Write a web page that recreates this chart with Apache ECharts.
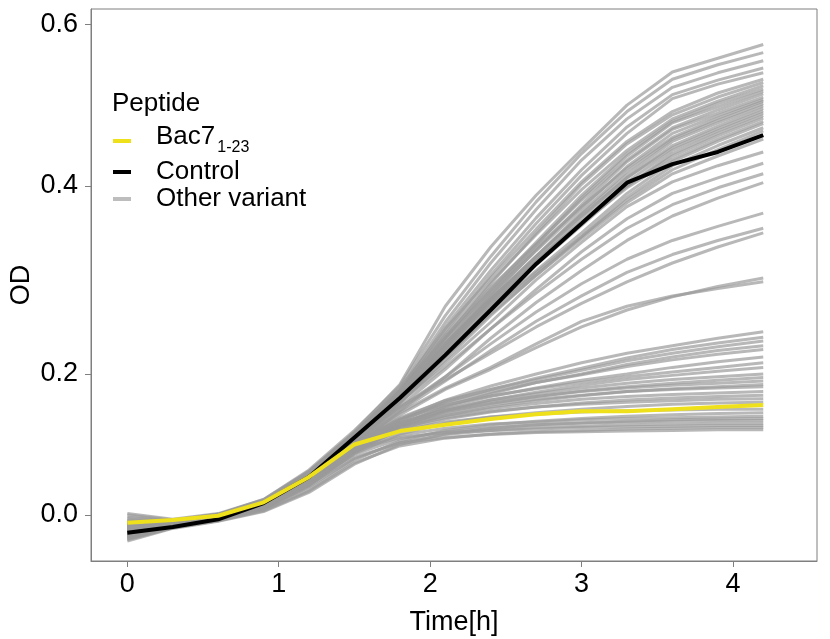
<!DOCTYPE html>
<html>
<head>
<meta charset="utf-8">
<script src="https://cdn.jsdelivr.net/npm/echarts@6/dist/echarts.min.js"></script>
<style>html,body{margin:0;padding:0;background:#fff}#c{width:830px;height:639px}</style>
</head>
<body>
<div id="c"></div>
<script>
// time points (h)
const time = [0, 0.3, 0.6, 0.9, 1.2, 1.5, 1.8, 2.1, 2.4, 2.7, 3.0, 3.3, 3.6, 3.9, 4.2];
// x tick labels
const xTicks = [0, 1, 2, 3, 4];
// y tick labels (OD)
const yTicks = [0, 0.2, 0.4, 0.6];

const bac7 = [-0.011,-0.007,-0.001,0.018,0.054,0.100,0.119,0.128,0.136,0.143,0.147,0.147,0.150,0.153,0.156];
const control = [-0.025,-0.017,-0.006,0.017,0.054,0.110,0.166,0.220,0.268,0.317,0.360,0.404,0.427,0.442,0.463];

const otherHigh = [
  [-0.010,-0.009,0.000,0.020,0.062,0.118,0.185,0.272,0.335,0.390,0.445,0.500,0.541,0.558,0.575],
  [0.002,-0.006,0.002,0.022,0.064,0.120,0.183,0.262,0.325,0.383,0.440,0.492,0.532,0.550,0.565],
  [-0.020,-0.012,-0.003,0.016,0.056,0.114,0.178,0.255,0.318,0.375,0.432,0.483,0.522,0.540,0.555],
  [-0.015,-0.010,-0.002,0.018,0.058,0.112,0.176,0.250,0.310,0.366,0.420,0.473,0.513,0.531,0.546],
  [-0.025,-0.014,-0.005,0.013,0.050,0.110,0.172,0.245,0.305,0.360,0.413,0.465,0.508,0.526,0.540],
  [0.000,-0.007,0.001,0.021,0.061,0.116,0.179,0.248,0.302,0.354,0.405,0.455,0.492,0.515,0.532],
  [-0.030,-0.016,-0.006,0.011,0.045,0.104,0.168,0.238,0.296,0.350,0.402,0.452,0.488,0.510,0.528],
  [-0.012,-0.010,-0.001,0.019,0.059,0.113,0.175,0.242,0.298,0.348,0.396,0.444,0.483,0.505,0.524],
  [-0.018,-0.011,-0.003,0.015,0.053,0.108,0.170,0.236,0.290,0.340,0.390,0.440,0.480,0.502,0.520],
  [-0.022,-0.013,-0.004,0.014,0.050,0.106,0.166,0.232,0.286,0.337,0.387,0.437,0.478,0.498,0.517],
  [-0.008,-0.009,0.000,0.020,0.060,0.114,0.174,0.240,0.292,0.338,0.385,0.432,0.472,0.494,0.514],
  [-0.028,-0.015,-0.006,0.012,0.046,0.103,0.164,0.228,0.282,0.332,0.380,0.430,0.470,0.490,0.510],
  [-0.016,-0.011,-0.002,0.017,0.055,0.110,0.169,0.232,0.284,0.331,0.376,0.424,0.465,0.487,0.507],
  [-0.005,-0.008,0.001,0.021,0.061,0.115,0.176,0.238,0.288,0.334,0.378,0.422,0.460,0.484,0.505],
  [-0.024,-0.014,-0.005,0.013,0.049,0.105,0.163,0.225,0.277,0.325,0.372,0.418,0.458,0.481,0.502],
  [-0.019,-0.012,-0.003,0.016,0.054,0.109,0.168,0.229,0.279,0.325,0.370,0.414,0.455,0.478,0.499],
  [-0.033,-0.017,-0.007,0.009,0.042,0.100,0.158,0.220,0.272,0.320,0.366,0.410,0.450,0.474,0.496],
  [-0.011,-0.010,-0.001,0.019,0.058,0.112,0.171,0.231,0.280,0.325,0.368,0.410,0.447,0.471,0.493],
  [-0.020,-0.012,-0.004,0.015,0.052,0.107,0.165,0.226,0.275,0.320,0.362,0.405,0.444,0.468,0.490],
  [-0.026,-0.015,-0.005,0.012,0.048,0.104,0.162,0.222,0.271,0.316,0.358,0.400,0.440,0.465,0.487],
  [-0.014,-0.011,-0.002,0.018,0.056,0.111,0.170,0.228,0.276,0.319,0.360,0.400,0.437,0.462,0.484],
  [-0.003,-0.008,0.001,0.022,0.062,0.116,0.175,0.233,0.280,0.322,0.360,0.398,0.433,0.458,0.480],
  [-0.023,-0.013,-0.004,0.014,0.051,0.106,0.163,0.221,0.268,0.310,0.350,0.392,0.430,0.455,0.477],
  [-0.029,-0.016,-0.006,0.011,0.045,0.102,0.159,0.215,0.262,0.305,0.346,0.388,0.425,0.450,0.472],
  [-0.017,-0.011,-0.003,0.016,0.054,0.108,0.166,0.223,0.268,0.308,0.346,0.385,0.420,0.445,0.468],
  [-0.021,-0.013,-0.004,0.015,0.052,0.106,0.162,0.218,0.264,0.305,0.344,0.382,0.415,0.437,0.458]
];
const otherMid = [
  [-0.020,-0.012,-0.004,0.015,0.052,0.104,0.160,0.212,0.255,0.300,0.340,0.378,0.405,0.425,0.442],
  [-0.027,-0.015,-0.005,0.012,0.047,0.100,0.154,0.205,0.248,0.290,0.330,0.365,0.392,0.410,0.428],
  [-0.013,-0.010,-0.002,0.018,0.056,0.108,0.160,0.208,0.248,0.286,0.322,0.355,0.380,0.398,0.415],
  [-0.031,-0.016,-0.006,0.010,0.043,0.097,0.148,0.196,0.238,0.276,0.310,0.342,0.368,0.387,0.404],
  [-0.018,-0.012,-0.003,0.016,0.053,0.103,0.152,0.196,0.232,0.266,0.296,0.322,0.342,0.357,0.371],
  [-0.024,-0.014,-0.005,0.013,0.049,0.099,0.147,0.190,0.225,0.256,0.283,0.308,0.327,0.342,0.355],
  [-0.010,-0.009,0.000,0.019,0.058,0.106,0.153,0.192,0.222,0.250,0.275,0.298,0.318,0.335,0.350],
  [-0.028,-0.015,-0.006,0.011,0.046,0.096,0.142,0.178,0.205,0.228,0.250,0.268,0.282,0.293,0.302],
  [-0.015,-0.011,-0.002,0.017,0.054,0.100,0.145,0.180,0.207,0.232,0.256,0.272,0.283,0.291,0.298]
];
const otherLow = [
  [-0.020,-0.012,-0.004,0.015,0.051,0.097,0.136,0.163,0.183,0.200,0.212,0.222,0.230,0.238,0.245],
  [-0.026,-0.015,-0.005,0.012,0.046,0.093,0.133,0.160,0.178,0.194,0.206,0.217,0.226,0.233,0.239],
  [-0.012,-0.010,-0.001,0.018,0.056,0.100,0.138,0.162,0.178,0.192,0.204,0.214,0.222,0.229,0.235],
  [-0.030,-0.016,-0.006,0.010,0.043,0.090,0.128,0.154,0.172,0.188,0.200,0.210,0.218,0.225,0.230],
  [-0.017,-0.011,-0.003,0.016,0.053,0.098,0.134,0.158,0.174,0.188,0.199,0.208,0.215,0.221,0.226],
  [-0.022,-0.013,-0.004,0.014,0.049,0.094,0.130,0.153,0.168,0.180,0.191,0.200,0.207,0.213,0.218],
  [-0.008,-0.009,0.000,0.020,0.059,0.102,0.136,0.156,0.169,0.179,0.188,0.196,0.202,0.207,0.212],
  [-0.033,-0.017,-0.007,0.009,0.041,0.088,0.125,0.148,0.163,0.174,0.184,0.192,0.198,0.203,0.207],
  [-0.019,-0.012,-0.003,0.015,0.052,0.096,0.130,0.150,0.163,0.172,0.180,0.187,0.192,0.196,0.200],
  [-0.025,-0.014,-0.005,0.013,0.047,0.092,0.126,0.146,0.158,0.168,0.176,0.182,0.187,0.191,0.195],
  [-0.014,-0.010,-0.002,0.017,0.055,0.099,0.131,0.149,0.160,0.168,0.175,0.180,0.184,0.187,0.190],
  [-0.028,-0.015,-0.006,0.011,0.044,0.089,0.122,0.141,0.153,0.162,0.169,0.175,0.179,0.182,0.185],
  [-0.021,-0.013,-0.004,0.014,0.050,0.094,0.127,0.145,0.156,0.164,0.170,0.175,0.178,0.180,0.182],
  [-0.016,-0.011,-0.003,0.016,0.053,0.096,0.125,0.141,0.151,0.158,0.164,0.168,0.171,0.173,0.175],
  [-0.024,-0.014,-0.005,0.013,0.048,0.091,0.120,0.136,0.146,0.153,0.159,0.163,0.166,0.168,0.170],
  [-0.011,-0.010,-0.001,0.018,0.057,0.098,0.124,0.138,0.147,0.153,0.157,0.160,0.162,0.164,0.165],
  [-0.029,-0.016,-0.006,0.010,0.044,0.087,0.115,0.130,0.139,0.145,0.150,0.154,0.157,0.159,0.160],
  [-0.020,-0.012,-0.004,0.014,0.050,0.093,0.119,0.132,0.139,0.143,0.146,0.148,0.149,0.150,0.150],
  [-0.034,-0.018,-0.008,0.007,0.036,0.078,0.105,0.120,0.128,0.133,0.137,0.140,0.142,0.144,0.145],
  [-0.018,-0.012,-0.003,0.015,0.050,0.090,0.113,0.123,0.129,0.132,0.135,0.137,0.138,0.139,0.140],
  [-0.037,-0.019,-0.009,0.005,0.032,0.072,0.100,0.115,0.123,0.128,0.131,0.133,0.135,0.136,0.137],
  [-0.022,-0.013,-0.004,0.013,0.047,0.086,0.108,0.118,0.124,0.128,0.130,0.132,0.133,0.134,0.134],
  [-0.030,-0.016,-0.007,0.009,0.040,0.080,0.103,0.114,0.120,0.124,0.126,0.128,0.129,0.130,0.130],
  [-0.013,-0.010,-0.002,0.017,0.054,0.092,0.110,0.117,0.120,0.122,0.124,0.125,0.126,0.127,0.127],
  [-0.035,-0.018,-0.008,0.006,0.034,0.074,0.098,0.109,0.115,0.118,0.120,0.122,0.123,0.124,0.124],
  [-0.026,-0.015,-0.005,0.011,0.043,0.082,0.102,0.110,0.114,0.117,0.118,0.119,0.120,0.121,0.121]
];

// The reference's OD axis is not evenly spaced: piecewise-linear scale through the tick values
const yScaleBreaks = [[0, 0], [0.2, 141], [0.4, 329], [0.6, 490.5]];
function toAxis(v) {
  const b = yScaleBreaks;
  let i = 0;
  while (i < b.length - 2 && v > b[i + 1][0]) i++;
  const f = (v - b[i][0]) / (b[i + 1][0] - b[i][0]);
  return b[i][1] + f * (b[i + 1][1] - b[i][1]);
}
function fromAxis(p) {
  const b = yScaleBreaks;
  let i = 0;
  while (i < b.length - 2 && p > b[i + 1][1]) i++;
  const f = (p - b[i][1]) / (b[i + 1][1] - b[i][1]);
  return b[i][0] + f * (b[i + 1][0] - b[i][0]);
}
const pts = vals => time.map((t, i) => [t, toAxis(vals[i])]);

const GREY = '#9a9a9a';
const series = [];
otherHigh.concat(otherMid, otherLow).forEach(v => {
  series.push({
    type: 'line', name: 'Other variant', data: pts(v), symbol: 'none', silent: true,
    itemStyle: { color: '#bdbdbd' },
    lineStyle: { color: GREY, width: 3, opacity: 0.7 }, z: 2
  });
});
series.push({
  type: 'line', name: 'Control', data: pts(control), symbol: 'none', silent: true,
  itemStyle: { color: '#000' }, lineStyle: { color: '#000', width: 4 }, z: 3
});
series.push({
  type: 'line', name: 'Bac7', data: pts(bac7), symbol: 'none', silent: true,
  itemStyle: { color: '#EFE01C' }, lineStyle: { color: '#EFE01C', width: 4 }, z: 4
});

const FONT = '"Liberation Sans", Arial, sans-serif';
const axisGrey = '#7f7f7f';

const chart = echarts.init(document.getElementById('c'), null, { renderer: 'canvas' });
chart.setOption({
  animation: false,
  backgroundColor: '#fff',
  title: {
    text: 'Peptide', left: 107, top: 86,
    textStyle: { fontFamily: FONT, fontSize: 26, fontWeight: 'normal', color: '#000' }
  },
  legend: {
    orient: 'vertical', left: 108, top: 119, itemGap: 1,
    itemWidth: 18, itemHeight: 4, icon: 'rect', selectedMode: false,
    data: [
      { name: 'Bac7', itemStyle: { color: '#EFE01C' } },
      { name: 'Control', itemStyle: { color: '#000' } },
      { name: 'Other variant', itemStyle: { color: '#bdbdbd' } }
    ],
    formatter: n => n === 'Bac7' ? '{b|Bac7}{s|1-23}' : '{m|' + n + '}',
    textStyle: {
      fontFamily: FONT, fontSize: 26, color: '#000', padding: [0, 0, 0, 20],
      rich: {
        m: { fontFamily: FONT, fontSize: 26, color: '#000', lineHeight: 27 },
        b: { fontFamily: FONT, fontSize: 26, color: '#000', lineHeight: 16, padding: [0, 0, 8, 0] },
        s: { fontFamily: FONT, fontSize: 16, color: '#000', lineHeight: 16, padding: [14, 0, 0, 2] }
      }
    }
  },
  grid: { left: 91, right: 13, top: 9, bottom: 78, show: true, borderColor: axisGrey, borderWidth: 1, backgroundColor: 'transparent', outerBoundsMode: 'none', containLabel: false },
  xAxis: {
    type: 'value', min: -0.24, max: 4.555,
    name: 'Time[h]', nameLocation: 'middle', nameGap: 48, nameMoveOverlap: false,
    nameTextStyle: { fontFamily: FONT, fontSize: 27, color: '#000' },
    axisLine: { show: true, onZero: false, lineStyle: { color: axisGrey, width: 1 } },
    axisTick: { show: true, length: 6, customValues: xTicks, lineStyle: { color: axisGrey } },
    axisLabel: { customValues: xTicks, margin: 10, fontFamily: FONT, fontSize: 27, color: '#000', formatter: v => String(v) },
    splitLine: { show: false }
  },
  yAxis: {
    type: 'value', min: toAxis(-0.0652), max: toAxis(0.619),
    name: 'OD', nameLocation: 'middle', nameGap: 56, nameMoveOverlap: false,
    nameTextStyle: { fontFamily: FONT, fontSize: 27, color: '#000' },
    axisLine: { show: true, onZero: false, lineStyle: { color: axisGrey, width: 1 } },
    axisTick: { show: true, length: 6, customValues: yTicks.map(toAxis), lineStyle: { color: axisGrey } },
    axisLabel: {
      customValues: yTicks.map(toAxis), margin: 13, fontFamily: FONT, fontSize: 27, color: '#000',
      formatter: p => fromAxis(p).toFixed(1)
    },
    splitLine: { show: false }
  },
  series: series
});
</script>
</body>
</html>
